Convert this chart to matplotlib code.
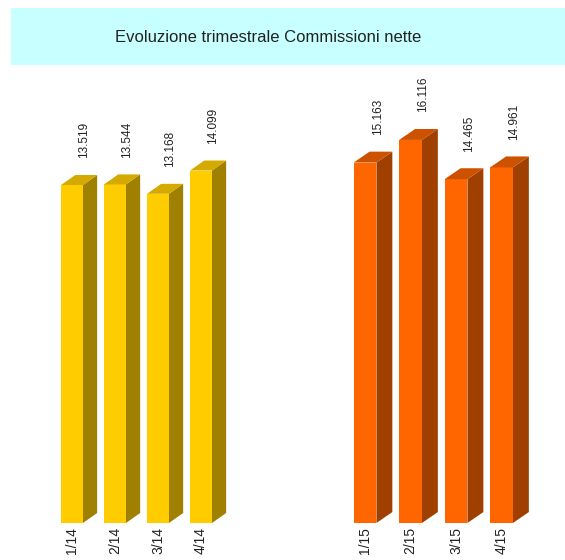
import matplotlib
matplotlib.use("Agg")
import matplotlib.pyplot as plt
from matplotlib.patches import Polygon, Rectangle

plt.rcParams["font.family"] = ["Liberation Sans", "DejaVu Sans"]

title = "Evoluzione trimestrale Commissioni nette"

quarters_14 = ["1/14", "2/14", "3/14", "4/14"]
values_14 = [13.519, 13.544, 13.168, 14.099]
labels_14 = ["13.519", "13.544", "13.168", "14.099"]

quarters_15 = ["1/15", "2/15", "3/15", "4/15"]
values_15 = [15.163, 16.116, 14.465, 14.961]
labels_15 = ["15.163", "16.116", "14.465", "14.961"]

W, H = 565, 560
fig = plt.figure(figsize=(W / 100, H / 100), dpi=100)


def px_axes(left, top, width, height):
    # pixel box (from top-left) -> figure fraction
    return fig.add_axes([left / W, (H - top - height) / H, width / W, height / H])


# title band
fig.patches.append(Rectangle((11 / W, (H - 65) / H), (W - 11) / W, 57 / H,
                             transform=fig.transFigure, facecolor="#c8ffff",
                             edgecolor="none", zorder=0))
fig.text(268 / W, 1 - 38 / H, title, ha="center", va="center",
         fontsize=12, color="#222222")


def draw3d(ax, cats, vals, labels, ymax, front, side, top, dx, dy, w):
    x = list(range(len(cats)))
    ax.bar(x, vals, width=w, color=front, zorder=3)
    for i, v in enumerate(vals):
        r = i + w / 2
        l = i - w / 2
        ax.add_patch(Polygon([(r, 0), (r + dx, dy), (r + dx, v + dy), (r, v)],
                             closed=True, facecolor=side, edgecolor="none", zorder=2))
        ax.add_patch(Polygon([(l, v), (r, v), (r + dx, v + dy), (l + dx, v + dy)],
                             closed=True, facecolor=top, edgecolor="none", zorder=4))
        ax.annotate(labels[i], (i + 0.28, v + dy), xytext=(0, 12),
                    textcoords="offset points", rotation=90,
                    ha="center", va="bottom", fontsize=8.5, color="#222222")
    ax.set_xlim(-0.7, 3.9)
    ax.set_ylim(0, ymax)
    ax.set_xticks(x)
    ax.set_xticklabels(cats, rotation=90, fontsize=10, color="#222222")
    ax.tick_params(axis="x", length=0, pad=3)
    ax.set_yticks([])
    for s in ax.spines.values():
        s.set_visible(False)
    ax.patch.set_alpha(0)


ax1 = px_axes(41.9, 73, 197.8, 450)
draw3d(ax1, quarters_14, values_14, labels_14, 18,
       "#ffcc00", "#a08000", "#d4aa00", 0.33, 0.4, 0.51)

ax2 = px_axes(333.2, 523 - 19 * 23.77, 209.3, 19 * 23.77)
draw3d(ax2, quarters_15, values_15, labels_15, 19,
       "#ff6600", "#a04000", "#cc5200", 0.35, 0.46, 0.5)

fig.savefig("out.png", dpi=100)
